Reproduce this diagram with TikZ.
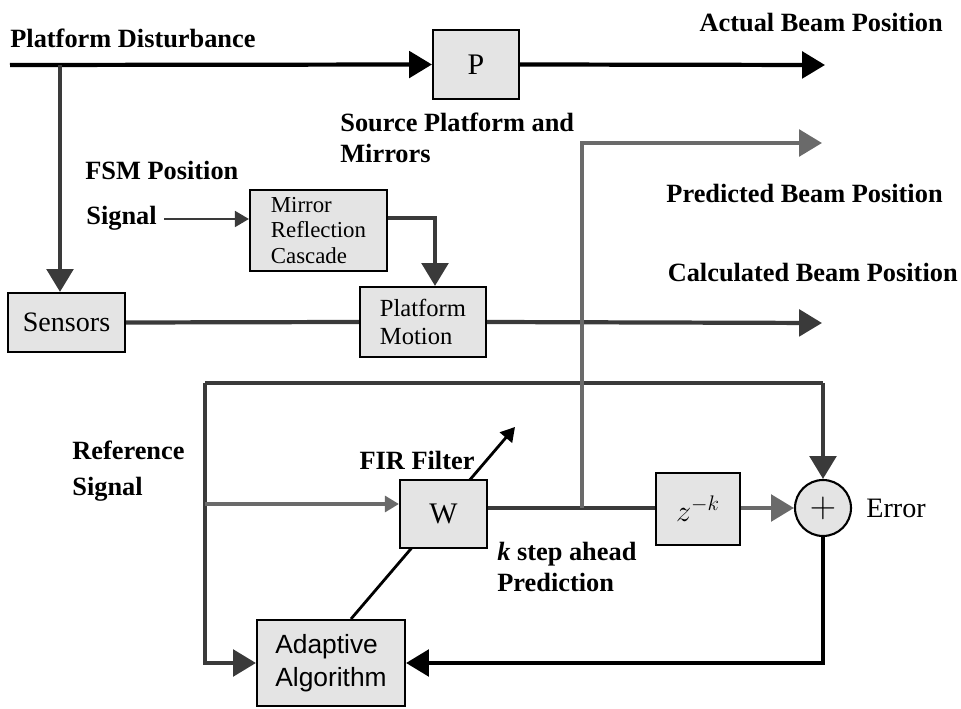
\documentclass[tikz,border=0pt]{standalone}
\usepackage{fontspec}
\setmainfont{Liberation Serif}
\newfontfamily\algfont{Liberation Sans}
\usetikzlibrary{arrows.meta}
\usetikzlibrary{backgrounds}
\definecolor{boxgray}{HTML}{E4E4E4}
\definecolor{linegray}{HTML}{6A6A6A}
\definecolor{linedark}{HTML}{3A3A3A}
\tikzset{blk/.style = {draw, fill=boxgray, line width=1.2pt, inner sep=0, align=left},
  lbl/.style = {font=\fontsize{15}{17.6}\selectfont\bfseries, align=left, inner sep=0},
  heavy/.style = {line width=2.4pt, black},
  grayline/.style = {line width=2.4pt, linegray},
  darkline/.style = {line width=2.4pt, linedark},
  bigtip/.style = {-{Triangle[length=13pt,width=15pt]}},
  smalltip/.style = {-{Triangle[length=8pt,width=9pt]}}}

\begin{document}
\begin{tikzpicture}[x=0.02cm, y=-0.02cm]
  \useasboundingbox (0,0) rectangle (961,709);
  % blocks
  \node [blk, minimum width=1.72cm, minimum height=1.38cm, align=center,
         font=\fontsize{17}{20}\selectfont] (P) at (476,64.5) {P};
  \node [blk, minimum width=2.34cm, minimum height=1.18cm, align=center,
         font=\fontsize{16}{19}\selectfont] (sensors) at (66.5,322.5) {Sensors};
  \node [blk, minimum width=2.74cm, minimum height=1.62cm,
         font=\fontsize{13}{14.5}\selectfont] (mirror) at (318.5,230.5) {Mirror\\Reflection\\Cascade};
  \node [blk, minimum width=2.52cm, minimum height=1.4cm,
         font=\fontsize{14}{15.5}\selectfont] (motion) at (423,322) {Platform\\Motion};
  \node [blk, minimum width=1.74cm, minimum height=1.36cm, align=center,
         font=\fontsize{17}{20}\selectfont] (W) at (443.5,514) {W};
  \node [blk, minimum width=1.68cm, minimum height=1.44cm, align=center,
         font=\fontsize{17}{20}\selectfont] (delay) at (698,509) {$z^{-k}$};
  \node [blk, circle, minimum size=1.12cm, font=\fontsize{20}{20}\selectfont] (sum) at (823,508) {$+$};
  \node [blk, minimum width=2.96cm, minimum height=1.72cm,
         font=\algfont\fontsize{15}{18.5}\selectfont] (alg) at (331,663) {Adaptive\\Algorithm};

  % labels
  \node [lbl, anchor=base west] (dist) at (10,48) {Platform Disturbance};
  \node [lbl, anchor=base east] (actual) at (943,32) {Actual Beam Position};
  \node [lbl, anchor=north west] (src) at (340,113) {Source Platform and\\Mirrors};
  \node [lbl, anchor=base west] (fsm) at (85,180) {FSM Position};
  \node [lbl, anchor=base west] (sig) at (86,225) {Signal};
  \node [lbl, anchor=base east] (predlbl) at (943,203) {Predicted Beam Position};
  \node [lbl, anchor=base east] (calclbl) at (958,282) {Calculated Beam Position};
  \node [lbl, anchor=north west, font=\fontsize{15}{20}\selectfont\bfseries] (ref) at (72,441) {Reference\\Signal};
  \node [lbl, anchor=base] (fir) at (417,470) {FIR Filter};
  \node [lbl, anchor=north west] (kstep) at (497,542) {\textit{k} step ahead\\Prediction};
  \node [font=\fontsize{16}{19}\selectfont, anchor=west, inner sep=0] (err) at (866,508) {Error};

  % free ends
  \coordinate (in) at (10,65);
  \coordinate (tap) at (60,65);
  \coordinate (actend) at (825,65);
  \coordinate (predend) at (822,143);
  \coordinate (calcend) at (822,323);
  \coordinate (loopl) at (205,383);
  \coordinate (loopr) at (823,383);
  \coordinate (refin) at (205,504);
  \coordinate (branch) at (582,508);
  \coordinate (adapt) at (515,427);

  % connectors
  \draw [heavy, bigtip] (in) -- (P.west);
  \draw [heavy, bigtip] (P.east) -- (actend);
  \draw [darkline, bigtip] (tap) -- (tap |- sensors.north);
  \draw [line width=1.4pt, linedark, smalltip] ([xshift=4pt]sig.east |- 0,219) -- (mirror.west |- 0,219);
  \draw [darkline, bigtip] (mirror.east |- 0,218) -| ([xshift=0.24cm]motion.north);
  \draw [darkline] (sensors.east) -- (motion.west);
  \draw [darkline, bigtip] (motion.east) -- (calcend);
  \draw [darkline] (loopl) -- (loopr);
  \draw [darkline, bigtip] (loopr) -- (sum.north);
  \draw [darkline, bigtip] (loopl) |- (alg.west);
  \draw [grayline, smalltip] (refin) -- (W.west |- refin);
  \draw [darkline] (W.east |- branch) -- (delay.west |- branch);
  \draw [grayline, bigtip] (branch) |- (predend);
  \draw [grayline, bigtip] (delay.east |- sum) -- (sum.west);
  \draw [heavy, bigtip] (sum.south) |- (alg.east);
  \begin{pgfonlayer}{background}
    \draw [line width=1.6pt, smalltip] (alg.north -| 351,0) -- (adapt);
  \end{pgfonlayer}
\end{tikzpicture}
\end{document}
